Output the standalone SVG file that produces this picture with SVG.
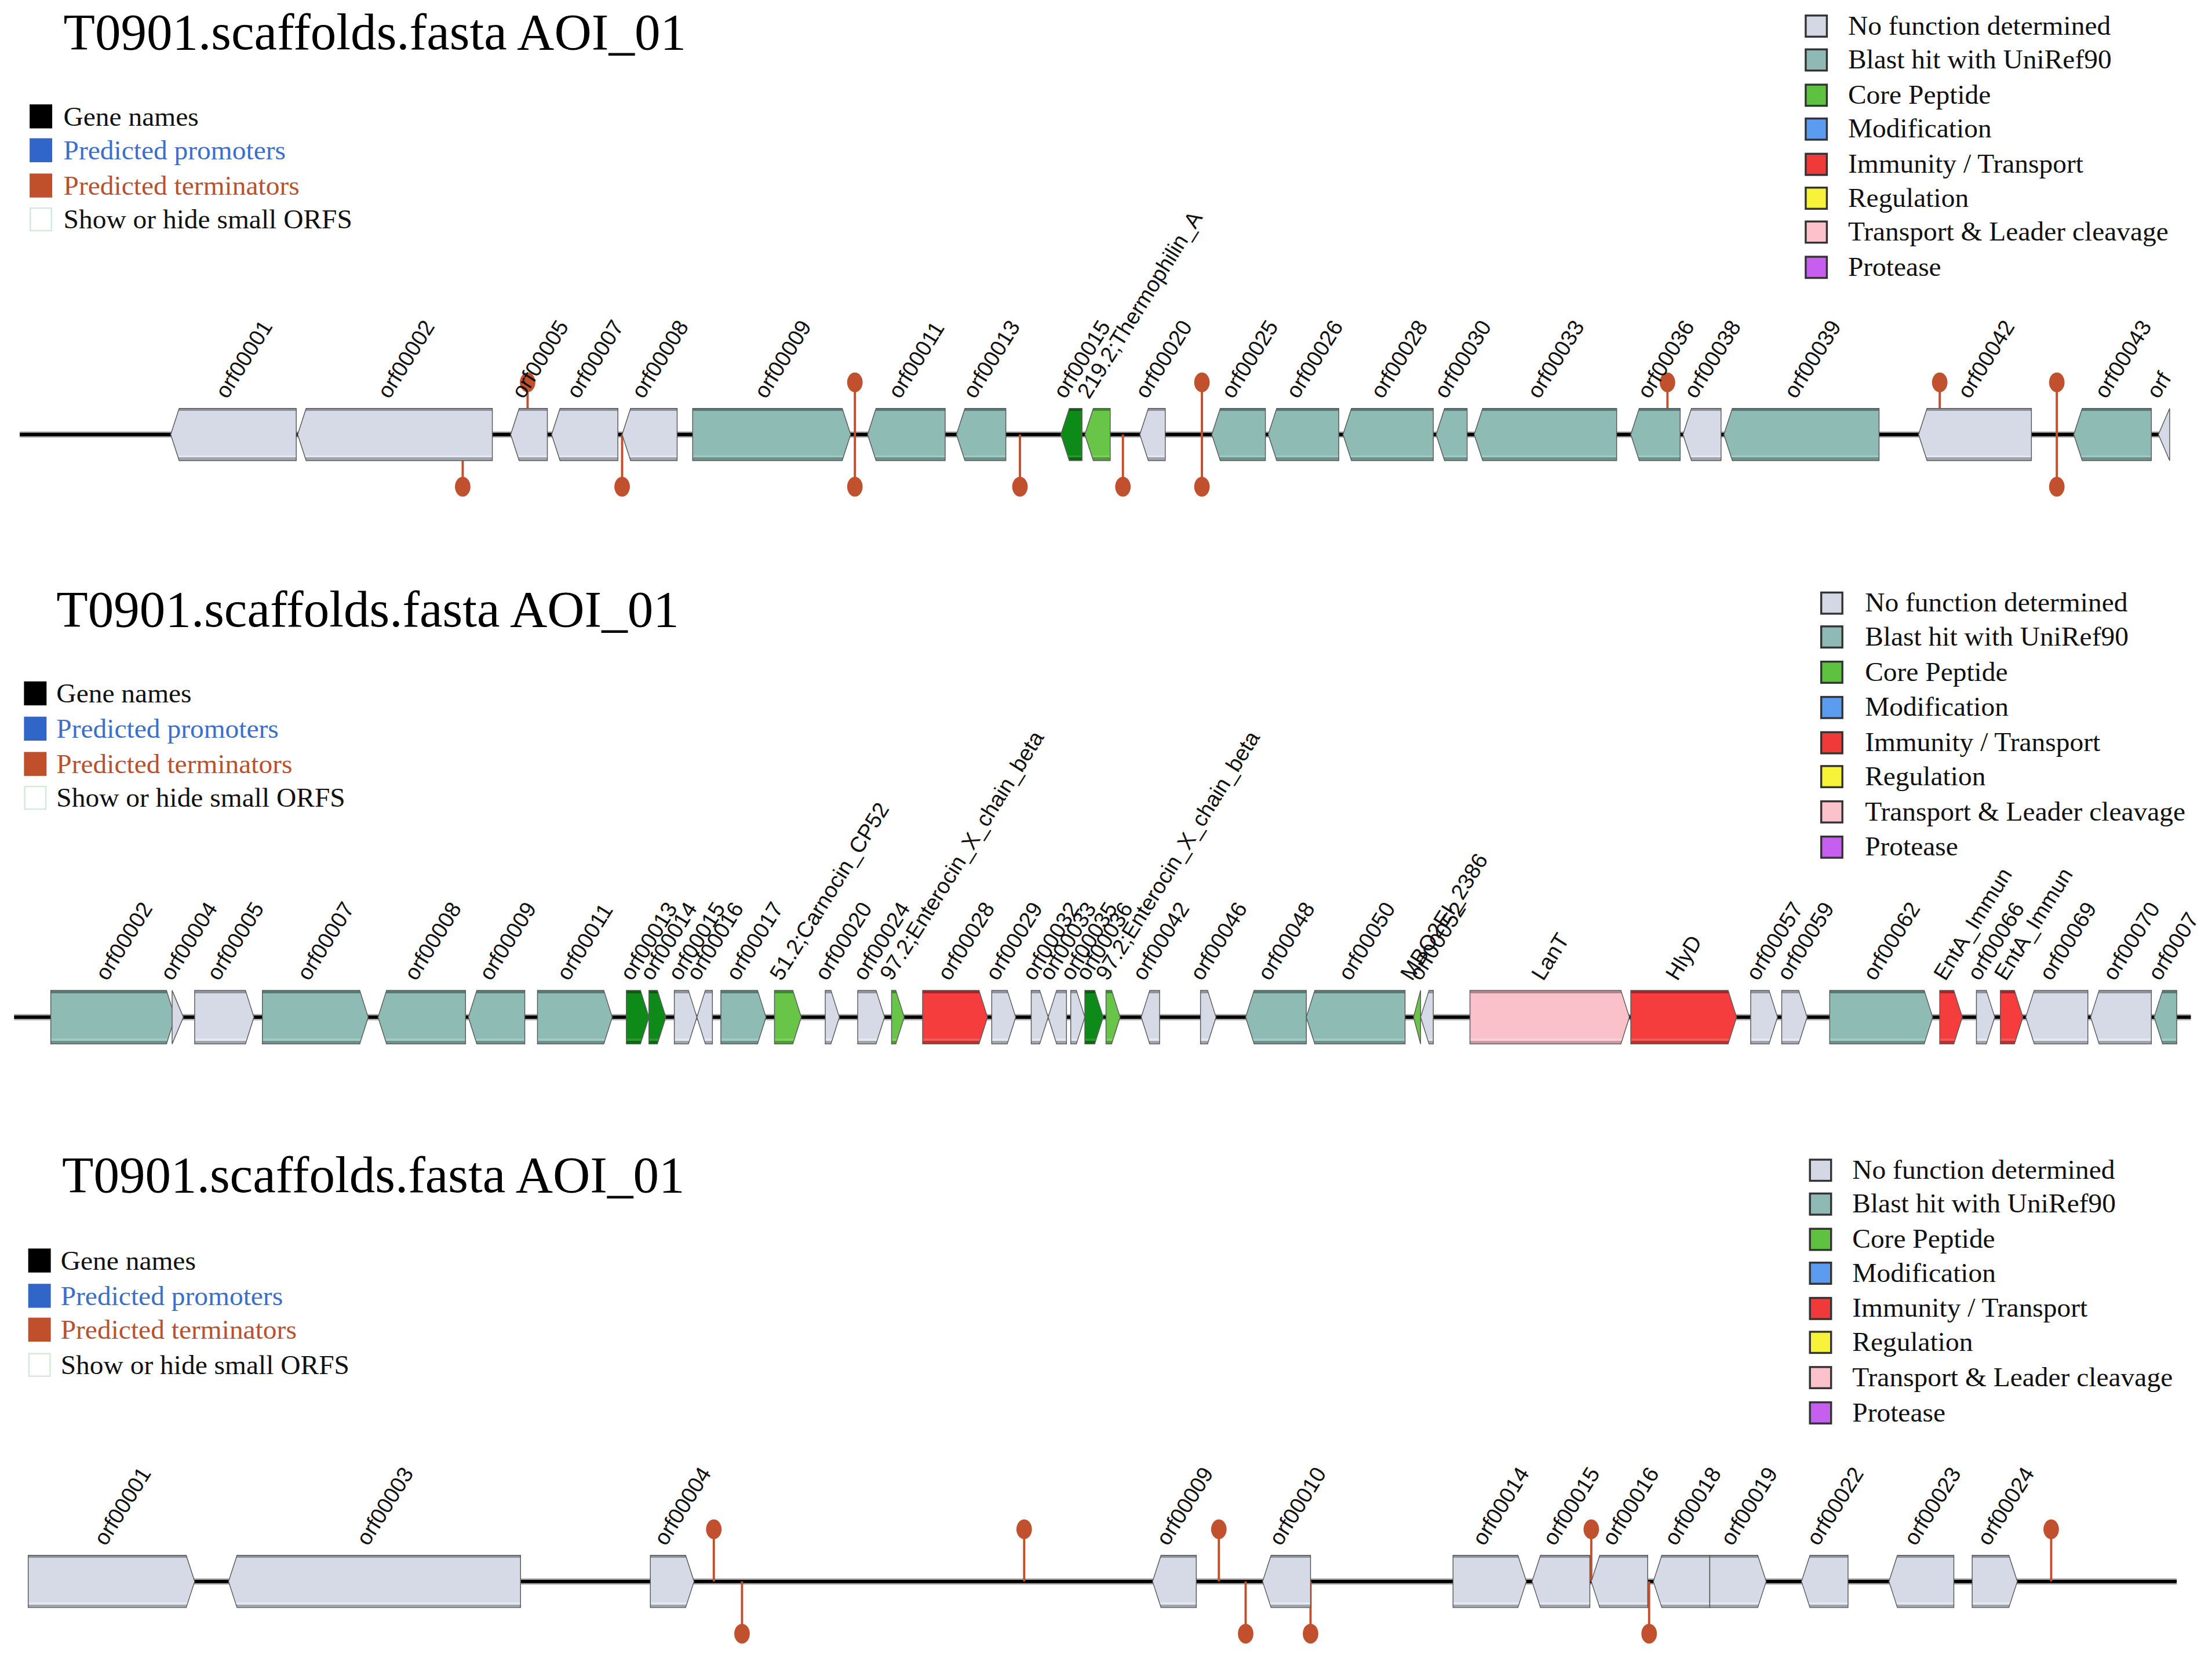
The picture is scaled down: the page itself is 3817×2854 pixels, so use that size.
<svg xmlns="http://www.w3.org/2000/svg" width="3817" height="2854" viewBox="0 0 3817 2854">
<style>
.t{font-family:"Liberation Serif","Times New Roman",serif;font-size:36.6px;fill:#000}
.lg{font-family:"Liberation Serif","Times New Roman",serif;font-size:19.5px;fill:#111}
.lb{font-family:"Liberation Sans",Arial,sans-serif;font-size:15.6px;fill:#111}
.bl{fill:#3b6fc9}.rd{fill:#b9512f}
.g{stroke:#5a5a5a;stroke-width:0.6}
.gr{fill:url(#gGray)}.te{fill:url(#gTeal)}.dg{fill:url(#gDk)}.lgr{fill:url(#gLg)}.re{fill:url(#gRed)}.pk{fill:url(#gPk)}
.tl{stroke:#c1502e;stroke-width:1.6;fill:none}
.tb{fill:#c1502e}
.lnh{stroke:#a8a8a8;stroke-width:4.4;fill:none}
.ln{stroke:#000;stroke-width:2.4;fill:none}
.sq{stroke:#333;stroke-width:1.4}
</style>
<defs>
<linearGradient id="gGray" x1="0" y1="0" x2="0" y2="1"><stop offset="0" stop-color="#8e939c"/><stop offset=".05" stop-color="#8e939c"/><stop offset=".051" stop-color="#d5dae6"/><stop offset=".9" stop-color="#d5dae6"/><stop offset=".901" stop-color="#e4e8f0"/><stop offset=".94" stop-color="#e4e8f0"/><stop offset=".941" stop-color="#a0a4ad"/><stop offset="1" stop-color="#a0a4ad"/></linearGradient>
<linearGradient id="gTeal" x1="0" y1="0" x2="0" y2="1"><stop offset="0" stop-color="#587a76"/><stop offset=".05" stop-color="#587a76"/><stop offset=".051" stop-color="#8fbbb5"/><stop offset=".9" stop-color="#8fbbb5"/><stop offset=".901" stop-color="#a3cbc5"/><stop offset=".94" stop-color="#a3cbc5"/><stop offset=".941" stop-color="#6e918c"/><stop offset="1" stop-color="#6e918c"/></linearGradient>
<linearGradient id="gDk" x1="0" y1="0" x2="0" y2="1"><stop offset="0" stop-color="#0a5a10"/><stop offset=".05" stop-color="#0a5a10"/><stop offset=".051" stop-color="#0e8a19"/><stop offset=".9" stop-color="#0e8a19"/><stop offset=".901" stop-color="#2a9a30"/><stop offset=".94" stop-color="#2a9a30"/><stop offset=".941" stop-color="#0a6a12"/><stop offset="1" stop-color="#0a6a12"/></linearGradient>
<linearGradient id="gLg" x1="0" y1="0" x2="0" y2="1"><stop offset="0" stop-color="#3d8a2a"/><stop offset=".05" stop-color="#3d8a2a"/><stop offset=".051" stop-color="#68c548"/><stop offset=".9" stop-color="#68c548"/><stop offset=".901" stop-color="#7fd060"/><stop offset=".94" stop-color="#7fd060"/><stop offset=".941" stop-color="#4e9e38"/><stop offset="1" stop-color="#4e9e38"/></linearGradient>
<linearGradient id="gRed" x1="0" y1="0" x2="0" y2="1"><stop offset="0" stop-color="#9c2a2a"/><stop offset=".05" stop-color="#9c2a2a"/><stop offset=".051" stop-color="#f53d3d"/><stop offset=".9" stop-color="#f53d3d"/><stop offset=".901" stop-color="#f65858"/><stop offset=".94" stop-color="#f65858"/><stop offset=".941" stop-color="#b83232"/><stop offset="1" stop-color="#b83232"/></linearGradient>
<linearGradient id="gPk" x1="0" y1="0" x2="0" y2="1"><stop offset="0" stop-color="#b0868c"/><stop offset=".05" stop-color="#b0868c"/><stop offset=".051" stop-color="#fbc1cb"/><stop offset=".9" stop-color="#fbc1cb"/><stop offset=".901" stop-color="#fcd0d8"/><stop offset=".94" stop-color="#fcd0d8"/><stop offset=".941" stop-color="#c99aa2"/><stop offset="1" stop-color="#c99aa2"/></linearGradient>
</defs>
<rect width="3817" height="2854" fill="#fff"/>
<g transform="scale(2.4343)">

<!-- ===== PANEL 1 ===== -->
<g id="panel1">
<text class="t" x="45" y="35">T0901.scaffolds.fasta AOI_01</text>
<g id="p1-legend-left">
<rect x="21" y="74" width="16" height="17" fill="#000"/><text class="lg" x="45" y="89">Gene names</text>
<rect x="21" y="98" width="16" height="17" fill="#2f66c8"/><text class="lg bl" x="45" y="113">Predicted promoters</text>
<rect x="21" y="123" width="16" height="17" fill="#c04f2c"/><text class="lg rd" x="45" y="138">Predicted terminators</text>
<rect x="21.5" y="147.5" width="15" height="16" fill="#fff" stroke="#d2eadb" stroke-width="1"/><text class="lg" x="45" y="162">Show or hide small ORFS</text>
</g>
<g id="p1-legend-right">
<rect class="sq" x="1280" y="11" width="15" height="15" fill="#d4d8e4"/><text class="lg" x="1310" y="24.5">No function determined</text>
<rect class="sq" x="1280" y="35" width="15" height="15" fill="#8fb9b4"/><text class="lg" x="1310" y="48.5">Blast hit with UniRef90</text>
<rect class="sq" x="1280" y="60" width="15" height="15" fill="#5ec140"/><text class="lg" x="1310" y="73.5">Core Peptide</text>
<rect class="sq" x="1280" y="84" width="15" height="15" fill="#5b9bf0"/><text class="lg" x="1310" y="97.5">Modification</text>
<rect class="sq" x="1280" y="109" width="15" height="15" fill="#f03a3a"/><text class="lg" x="1310" y="122.5">Immunity / Transport</text>
<rect class="sq" x="1280" y="133" width="15" height="15" fill="#f7f23a"/><text class="lg" x="1310" y="146.5">Regulation</text>
<rect class="sq" x="1280" y="157" width="15" height="15" fill="#fbc2cc"/><text class="lg" x="1310" y="170.5">Transport &amp; Leader cleavage</text>
<rect class="sq" x="1280" y="182" width="15" height="15" fill="#c65ff0"/><text class="lg" x="1310" y="195.5">Protease</text>
</g>
<g id="p1-connectors">
<line class="lnh" x1="14" y1="308" x2="1536" y2="308"/><line class="ln" x1="14" y1="308" x2="1536" y2="308"/>
</g>
<g id="p1-terminators">
<path class="tl" d="M328 308V345M374 308V271M441 308V345M606 271V345M723 308V345M796 308V345M852 271V345M1182 308V271M1375 308V271M1458 271V345"/>
<ellipse class="tb" cx="328" cy="345" rx="5.5" ry="7"/><ellipse class="tb" cx="374" cy="271" rx="5.5" ry="7"/><ellipse class="tb" cx="441" cy="345" rx="5.5" ry="7"/>
<ellipse class="tb" cx="606" cy="271" rx="5.5" ry="7"/><ellipse class="tb" cx="606" cy="345" rx="5.5" ry="7"/><ellipse class="tb" cx="723" cy="345" rx="5.5" ry="7"/>
<ellipse class="tb" cx="796" cy="345" rx="5.5" ry="7"/><ellipse class="tb" cx="852" cy="271" rx="5.5" ry="7"/><ellipse class="tb" cx="852" cy="345" rx="5.5" ry="7"/>
<ellipse class="tb" cx="1182" cy="271" rx="5.5" ry="7"/><ellipse class="tb" cx="1375" cy="271" rx="5.5" ry="7"/><ellipse class="tb" cx="1458" cy="271" rx="5.5" ry="7"/><ellipse class="tb" cx="1458" cy="345" rx="5.5" ry="7"/>
</g>
<g id="p1-orf00001"><polygon class="g gr" points="121,308 127,289.5 210,289.5 210,326.5 127,326.5"/><text class="lb" transform="translate(161,283.5) rotate(-58)">orf00001</text></g>
<g id="p1-orf00002"><polygon class="g gr" points="211,308 217,289.5 349,289.5 349,326.5 217,326.5"/><text class="lb" transform="translate(276,283.5) rotate(-58)">orf00002</text></g>
<g id="p1-orf00005"><polygon class="g gr" points="362,308 368,289.5 388,289.5 388,326.5 368,326.5"/><text class="lb" transform="translate(371,283.5) rotate(-58)">orf00005</text></g>
<g id="p1-orf00007"><polygon class="g gr" points="391,308 397,289.5 438,289.5 438,326.5 397,326.5"/><text class="lb" transform="translate(410,283.5) rotate(-58)">orf00007</text></g>
<g id="p1-orf00008"><polygon class="g gr" points="441,308 447,289.5 480,289.5 480,326.5 447,326.5"/><text class="lb" transform="translate(456,283.5) rotate(-58)">orf00008</text></g>
<g id="p1-orf00009"><polygon class="g te" points="491,289.5 597,289.5 603,308 597,326.5 491,326.5"/><text class="lb" transform="translate(543,283.5) rotate(-58)">orf00009</text></g>
<g id="p1-orf00011"><polygon class="g te" points="615,308 621,289.5 670,289.5 670,326.5 621,326.5"/><text class="lb" transform="translate(638,283.5) rotate(-58)">orf00011</text></g>
<g id="p1-orf00013"><polygon class="g te" points="678,308 684,289.5 713,289.5 713,326.5 684,326.5"/><text class="lb" transform="translate(691,283.5) rotate(-58)">orf00013</text></g>
<g id="p1-orf00015"><polygon class="g dg" points="752,308 758,289.5 767,289.5 767,326.5 758,326.5"/><text class="lb" transform="translate(755,283.5) rotate(-58)">orf00015</text></g>
<g id="p1-thermophilin"><polygon class="g lgr" points="769,308 775,289.5 787,289.5 787,326.5 775,326.5"/><text class="lb" transform="translate(772,283.5) rotate(-58)">219.2;Thermophilin_A</text></g>
<g id="p1-orf00020"><polygon class="g gr" points="808,308 814,289.5 826,289.5 826,326.5 814,326.5"/><text class="lb" transform="translate(813,283.5) rotate(-58)">orf00020</text></g>
<g id="p1-orf00025"><polygon class="g te" points="859,308 865,289.5 897,289.5 897,326.5 865,326.5"/><text class="lb" transform="translate(874,283.5) rotate(-58)">orf00025</text></g>
<g id="p1-orf00026"><polygon class="g te" points="899,308 905,289.5 949,289.5 949,326.5 905,326.5"/><text class="lb" transform="translate(920,283.5) rotate(-58)">orf00026</text></g>
<g id="p1-orf00028"><polygon class="g te" points="952,308 958,289.5 1016,289.5 1016,326.5 958,326.5"/><text class="lb" transform="translate(980,283.5) rotate(-58)">orf00028</text></g>
<g id="p1-orf00030"><polygon class="g te" points="1018,308 1024,289.5 1040,289.5 1040,326.5 1024,326.5"/><text class="lb" transform="translate(1025,283.5) rotate(-58)">orf00030</text></g>
<g id="p1-orf00033"><polygon class="g te" points="1045,308 1051,289.5 1146,289.5 1146,326.5 1051,326.5"/><text class="lb" transform="translate(1091,283.5) rotate(-58)">orf00033</text></g>
<g id="p1-orf00036"><polygon class="g te" points="1156,308 1162,289.5 1191,289.5 1191,326.5 1162,326.5"/><text class="lb" transform="translate(1169,283.5) rotate(-58)">orf00036</text></g>
<g id="p1-orf00038"><polygon class="g gr" points="1193,308 1199,289.5 1220,289.5 1220,326.5 1199,326.5"/><text class="lb" transform="translate(1202,283.5) rotate(-58)">orf00038</text></g>
<g id="p1-orf00039"><polygon class="g te" points="1222,308 1228,289.5 1332,289.5 1332,326.5 1228,326.5"/><text class="lb" transform="translate(1273,283.5) rotate(-58)">orf00039</text></g>
<g id="p1-orf00042"><polygon class="g gr" points="1360,308 1366,289.5 1440,289.5 1440,326.5 1366,326.5"/><text class="lb" transform="translate(1396,283.5) rotate(-58)">orf00042</text></g>
<g id="p1-orf00043"><polygon class="g te" points="1470,308 1476,289.5 1525,289.5 1525,326.5 1476,326.5"/><text class="lb" transform="translate(1493,283.5) rotate(-58)">orf00043</text></g>
<g id="p1-orf-last"><polygon class="g gr" points="1530,308 1538,289.5 1538,326.5"/><text class="lb" transform="translate(1530,283.5) rotate(-58)">orf</text></g>
</g>

<!-- ===== PANEL 2 ===== -->
<g id="panel2">
<text class="t" x="40" y="444">T0901.scaffolds.fasta AOI_01</text>
<g id="p2-legend-left">
<rect x="17" y="483" width="16" height="17" fill="#000"/><text class="lg" x="40" y="498">Gene names</text>
<rect x="17" y="508" width="16" height="17" fill="#2f66c8"/><text class="lg bl" x="40" y="523">Predicted promoters</text>
<rect x="17" y="533" width="16" height="17" fill="#c04f2c"/><text class="lg rd" x="40" y="548">Predicted terminators</text>
<rect x="17.5" y="557.5" width="15" height="16" fill="#fff" stroke="#d2eadb" stroke-width="1"/><text class="lg" x="40" y="572">Show or hide small ORFS</text>
</g>
<g id="p2-legend-right">
<rect class="sq" x="1291" y="420" width="15" height="15" fill="#d4d8e4"/><text class="lg" x="1322" y="433.5">No function determined</text>
<rect class="sq" x="1291" y="444" width="15" height="15" fill="#8fb9b4"/><text class="lg" x="1322" y="457.5">Blast hit with UniRef90</text>
<rect class="sq" x="1291" y="469" width="15" height="15" fill="#5ec140"/><text class="lg" x="1322" y="482.5">Core Peptide</text>
<rect class="sq" x="1291" y="494" width="15" height="15" fill="#5b9bf0"/><text class="lg" x="1322" y="507.5">Modification</text>
<rect class="sq" x="1291" y="519" width="15" height="15" fill="#f03a3a"/><text class="lg" x="1322" y="532.5">Immunity / Transport</text>
<rect class="sq" x="1291" y="543" width="15" height="15" fill="#f7f23a"/><text class="lg" x="1322" y="556.5">Regulation</text>
<rect class="sq" x="1291" y="568" width="15" height="15" fill="#fbc2cc"/><text class="lg" x="1322" y="581.5">Transport &amp; Leader cleavage</text>
<rect class="sq" x="1291" y="593" width="15" height="15" fill="#c65ff0"/><text class="lg" x="1322" y="606.5">Protease</text>
</g>
<g id="p2-connectors">
<line class="lnh" x1="10" y1="721" x2="1553" y2="721"/><line class="ln" x1="10" y1="721" x2="1553" y2="721"/>
</g>
<g id="p2-orf00002"><polygon class="g te" points="36,702 118,702 124,721 118,740 36,740"/><text class="lb" transform="translate(76,696) rotate(-58)">orf00002</text></g>
<g id="p2-orf00004"><polygon class="g gr" points="122,702 130,721 122,740"/><text class="lb" transform="translate(122,696) rotate(-58)">orf00004</text></g>
<g id="p2-orf00005"><polygon class="g gr" points="138,702 174,702 180,721 174,740 138,740"/><text class="lb" transform="translate(155,696) rotate(-58)">orf00005</text></g>
<g id="p2-orf00007"><polygon class="g te" points="186,702 255,702 261,721 255,740 186,740"/><text class="lb" transform="translate(219,696) rotate(-58)">orf00007</text></g>
<g id="p2-orf00008"><polygon class="g te" points="268,721 274,702 330,702 330,740 274,740"/><text class="lb" transform="translate(295,696) rotate(-58)">orf00008</text></g>
<g id="p2-orf00009"><polygon class="g te" points="332,721 338,702 372,702 372,740 338,740"/><text class="lb" transform="translate(348,696) rotate(-58)">orf00009</text></g>
<g id="p2-orf00011"><polygon class="g te" points="381,702 428,702 434,721 428,740 381,740"/><text class="lb" transform="translate(403,696) rotate(-58)">orf00011</text></g>
<g id="p2-orf00013"><polygon class="g dg" points="444,702 454,702 460,721 454,740 444,740"/><text class="lb" transform="translate(448,696) rotate(-58)">orf00013</text></g>
<g id="p2-orf00014"><polygon class="g dg" points="460,702 466,702 472,721 466,740 460,740"/><text class="lb" transform="translate(462,696) rotate(-58)">orf00014</text></g>
<g id="p2-orf00015"><polygon class="g gr" points="478,702 488,702 494,721 488,740 478,740"/><text class="lb" transform="translate(482,696) rotate(-58)">orf00015</text></g>
<g id="p2-orf00016"><polygon class="g gr" points="494,721 500,702 505,702 505,740 500,740"/><text class="lb" transform="translate(495,696) rotate(-58)">orf00016</text></g>
<g id="p2-orf00017"><polygon class="g te" points="511,702 537,702 543,721 537,740 511,740"/><text class="lb" transform="translate(523,696) rotate(-58)">orf00017</text></g>
<g id="p2-carnocin"><polygon class="g lgr" points="549,702 562,702 568,721 562,740 549,740"/><text class="lb" transform="translate(554,696) rotate(-58)">51.2;Carnocin_CP52</text></g>
<g id="p2-orf00020"><polygon class="g gr" points="585,702 589,702 595,721 589,740 585,740"/><text class="lb" transform="translate(586,696) rotate(-58)">orf00020</text></g>
<g id="p2-orf00024"><polygon class="g gr" points="608,702 621,702 627,721 621,740 608,740"/><text class="lb" transform="translate(613,696) rotate(-58)">orf00024</text></g>
<g id="p2-enterocin1"><polygon class="g lgr" points="632,702 635,702 641,721 635,740 632,740"/><text class="lb" transform="translate(632,696) rotate(-58)">97.2;Enterocin_X_chain_beta</text></g>
<g id="p2-orf00028"><polygon class="g re" points="654,702 694,702 700,721 694,740 654,740"/><text class="lb" transform="translate(673,696) rotate(-58)">orf00028</text></g>
<g id="p2-orf00029"><polygon class="g gr" points="703,702 714,702 720,721 714,740 703,740"/><text class="lb" transform="translate(707,696) rotate(-58)">orf00029</text></g>
<g id="p2-orf00032"><polygon class="g gr" points="731,702 737,702 743,721 737,740 731,740"/><text class="lb" transform="translate(733,696) rotate(-58)">orf00032</text></g>
<g id="p2-orf00033"><polygon class="g gr" points="743,721 749,702 756,702 756,740 749,740"/><text class="lb" transform="translate(745,696) rotate(-58)">orf00033</text></g>
<g id="p2-orf00035"><polygon class="g gr" points="759,702 763,702 769,721 763,740 759,740"/><text class="lb" transform="translate(760,696) rotate(-58)">orf00035</text></g>
<g id="p2-orf00036"><polygon class="g dg" points="769,702 776,702 782,721 776,740 769,740"/><text class="lb" transform="translate(771,696) rotate(-58)">orf00036</text></g>
<g id="p2-enterocin2"><polygon class="g lgr" points="784,702 788,702 794,721 788,740 784,740"/><text class="lb" transform="translate(785,696) rotate(-58)">97.2;Enterocin_X_chain_beta</text></g>
<g id="p2-orf00042"><polygon class="g gr" points="809,721 815,702 822,702 822,740 815,740"/><text class="lb" transform="translate(811,696) rotate(-58)">orf00042</text></g>
<g id="p2-orf00046"><polygon class="g gr" points="851,702 856,702 862,721 856,740 851,740"/><text class="lb" transform="translate(852,696) rotate(-58)">orf00046</text></g>
<g id="p2-orf00048"><polygon class="g te" points="883,721 889,702 926,702 926,740 889,740"/><text class="lb" transform="translate(900,696) rotate(-58)">orf00048</text></g>
<g id="p2-orf00050"><polygon class="g te" points="926,721 932,702 996,702 996,740 932,740"/><text class="lb" transform="translate(957,696) rotate(-58)">orf00050</text></g>
<g id="p2-mbo"><polygon class="g lgr" points="1002,721 1007,702 1007,740"/><text class="lb" transform="translate(1001,696) rotate(-58)">MBO2EI_2386</text></g>
<g id="p2-orf00052"><polygon class="g gr" points="1007,721 1013,702 1016,702 1016,740 1013,740"/><text class="lb" transform="translate(1007,696) rotate(-58)">orf00052</text></g>
<g id="p2-lant"><polygon class="g pk" points="1042,702 1149,702 1155,721 1149,740 1042,740"/><text class="lb" transform="translate(1094,696) rotate(-58)">LanT</text></g>
<g id="p2-hlyd"><polygon class="g re" points="1156,702 1225,702 1231,721 1225,740 1156,740"/><text class="lb" transform="translate(1189,696) rotate(-58)">HlyD</text></g>
<g id="p2-orf00057"><polygon class="g gr" points="1241,702 1254,702 1260,721 1254,740 1241,740"/><text class="lb" transform="translate(1246,696) rotate(-58)">orf00057</text></g>
<g id="p2-orf00059"><polygon class="g gr" points="1263,702 1275,702 1281,721 1275,740 1263,740"/><text class="lb" transform="translate(1268,696) rotate(-58)">orf00059</text></g>
<g id="p2-orf00062"><polygon class="g te" points="1297,702 1364,702 1370,721 1364,740 1297,740"/><text class="lb" transform="translate(1329,696) rotate(-58)">orf00062</text></g>
<g id="p2-enta1"><polygon class="g re" points="1375,702 1385,702 1391,721 1385,740 1375,740"/><text class="lb" transform="translate(1379,696) rotate(-58)">EntA_Immun</text></g>
<g id="p2-orf00066"><polygon class="g gr" points="1401,702 1408,702 1414,721 1408,740 1401,740"/><text class="lb" transform="translate(1403,696) rotate(-58)">orf00066</text></g>
<g id="p2-enta2"><polygon class="g re" points="1418,702 1428,702 1434,721 1428,740 1418,740"/><text class="lb" transform="translate(1422,696) rotate(-58)">EntA_Immun</text></g>
<g id="p2-orf00069"><polygon class="g gr" points="1436,721 1442,702 1480,702 1480,740 1442,740"/><text class="lb" transform="translate(1454,696) rotate(-58)">orf00069</text></g>
<g id="p2-orf00070"><polygon class="g gr" points="1482,721 1488,702 1525,702 1525,740 1488,740"/><text class="lb" transform="translate(1499,696) rotate(-58)">orf00070</text></g>
<g id="p2-orf0007"><polygon class="g te" points="1527,721 1533,702 1543,702 1543,740 1533,740"/><text class="lb" transform="translate(1531,696) rotate(-58)">orf0007</text></g>
</g>

<!-- ===== PANEL 3 ===== -->
<g id="panel3">
<text class="t" x="44" y="845">T0901.scaffolds.fasta AOI_01</text>
<g id="p3-legend-left">
<rect x="20" y="885" width="16" height="17" fill="#000"/><text class="lg" x="43" y="900">Gene names</text>
<rect x="20" y="910" width="16" height="17" fill="#2f66c8"/><text class="lg bl" x="43" y="925">Predicted promoters</text>
<rect x="20" y="934" width="16" height="17" fill="#c04f2c"/><text class="lg rd" x="43" y="949">Predicted terminators</text>
<rect x="20.5" y="959.5" width="15" height="16" fill="#fff" stroke="#d2eadb" stroke-width="1"/><text class="lg" x="43" y="974">Show or hide small ORFS</text>
</g>
<g id="p3-legend-right">
<rect class="sq" x="1283" y="822" width="15" height="15" fill="#d4d8e4"/><text class="lg" x="1313" y="835.5">No function determined</text>
<rect class="sq" x="1283" y="846" width="15" height="15" fill="#8fb9b4"/><text class="lg" x="1313" y="859.5">Blast hit with UniRef90</text>
<rect class="sq" x="1283" y="871" width="15" height="15" fill="#5ec140"/><text class="lg" x="1313" y="884.5">Core Peptide</text>
<rect class="sq" x="1283" y="895" width="15" height="15" fill="#5b9bf0"/><text class="lg" x="1313" y="908.5">Modification</text>
<rect class="sq" x="1283" y="920" width="15" height="15" fill="#f03a3a"/><text class="lg" x="1313" y="933.5">Immunity / Transport</text>
<rect class="sq" x="1283" y="944" width="15" height="15" fill="#f7f23a"/><text class="lg" x="1313" y="957.5">Regulation</text>
<rect class="sq" x="1283" y="969" width="15" height="15" fill="#fbc2cc"/><text class="lg" x="1313" y="982.5">Transport &amp; Leader cleavage</text>
<rect class="sq" x="1283" y="994" width="15" height="15" fill="#c65ff0"/><text class="lg" x="1313" y="1007.5">Protease</text>
</g>
<g id="p3-connectors">
<line class="lnh" x1="20" y1="1121" x2="1543" y2="1121"/><line class="ln" x1="20" y1="1121" x2="1543" y2="1121"/>
</g>
<g id="p3-terminators">
<path class="tl" d="M506 1121V1084M526 1121V1158M726 1121V1084M864 1121V1084M883 1121V1158M929 1121V1158M1128 1121V1084M1169 1121V1158M1454 1121V1084"/>
<ellipse class="tb" cx="506" cy="1084" rx="5.5" ry="7"/><ellipse class="tb" cx="526" cy="1158" rx="5.5" ry="7"/><ellipse class="tb" cx="726" cy="1084" rx="5.5" ry="7"/>
<ellipse class="tb" cx="864" cy="1084" rx="5.5" ry="7"/><ellipse class="tb" cx="883" cy="1158" rx="5.5" ry="7"/><ellipse class="tb" cx="929" cy="1158" rx="5.5" ry="7"/>
<ellipse class="tb" cx="1128" cy="1084" rx="5.5" ry="7"/><ellipse class="tb" cx="1169" cy="1158" rx="5.5" ry="7"/><ellipse class="tb" cx="1454" cy="1084" rx="5.5" ry="7"/>
</g>
<g id="p3-orf00001"><polygon class="g gr" points="20,1102.5 132,1102.5 138,1121 132,1139.5 20,1139.5"/><text class="lb" transform="translate(75,1096.5) rotate(-58)">orf00001</text></g>
<g id="p3-orf00003"><polygon class="g gr" points="162,1121 168,1102.5 369,1102.5 369,1139.5 168,1139.5"/><text class="lb" transform="translate(261,1096.5) rotate(-58)">orf00003</text></g>
<g id="p3-orf00004"><polygon class="g gr" points="461,1102.5 486,1102.5 492,1121 486,1139.5 461,1139.5"/><text class="lb" transform="translate(472,1096.5) rotate(-58)">orf00004</text></g>
<g id="p3-orf00009"><polygon class="g gr" points="817,1121 823,1102.5 848,1102.5 848,1139.5 823,1139.5"/><text class="lb" transform="translate(828,1096.5) rotate(-58)">orf00009</text></g>
<g id="p3-orf00010"><polygon class="g gr" points="895,1121 901,1102.5 929,1102.5 929,1139.5 901,1139.5"/><text class="lb" transform="translate(908,1096.5) rotate(-58)">orf00010</text></g>
<g id="p3-orf00014"><polygon class="g gr" points="1030,1102.5 1076,1102.5 1082,1121 1076,1139.5 1030,1139.5"/><text class="lb" transform="translate(1052,1096.5) rotate(-58)">orf00014</text></g>
<g id="p3-orf00015"><polygon class="g gr" points="1086,1121 1092,1102.5 1127,1102.5 1127,1139.5 1092,1139.5"/><text class="lb" transform="translate(1102,1096.5) rotate(-58)">orf00015</text></g>
<g id="p3-orf00016"><polygon class="g gr" points="1128,1121 1134,1102.5 1168,1102.5 1168,1139.5 1134,1139.5"/><text class="lb" transform="translate(1144,1096.5) rotate(-58)">orf00016</text></g>
<g id="p3-orf00018"><polygon class="g gr" points="1172,1121 1178,1102.5 1212,1102.5 1212,1139.5 1178,1139.5"/><text class="lb" transform="translate(1188,1096.5) rotate(-58)">orf00018</text></g>
<g id="p3-orf00019"><polygon class="g gr" points="1212,1102.5 1246,1102.5 1252,1121 1246,1139.5 1212,1139.5"/><text class="lb" transform="translate(1228,1096.5) rotate(-58)">orf00019</text></g>
<g id="p3-orf00022"><polygon class="g gr" points="1277,1121 1283,1102.5 1310,1102.5 1310,1139.5 1283,1139.5"/><text class="lb" transform="translate(1289,1096.5) rotate(-58)">orf00022</text></g>
<g id="p3-orf00023"><polygon class="g gr" points="1339,1121 1345,1102.5 1385,1102.5 1385,1139.5 1345,1139.5"/><text class="lb" transform="translate(1358,1096.5) rotate(-58)">orf00023</text></g>
<g id="p3-orf00024"><polygon class="g gr" points="1398,1102.5 1424,1102.5 1430,1121 1424,1139.5 1398,1139.5"/><text class="lb" transform="translate(1410,1096.5) rotate(-58)">orf00024</text></g>
</g>
</g>
</svg>
